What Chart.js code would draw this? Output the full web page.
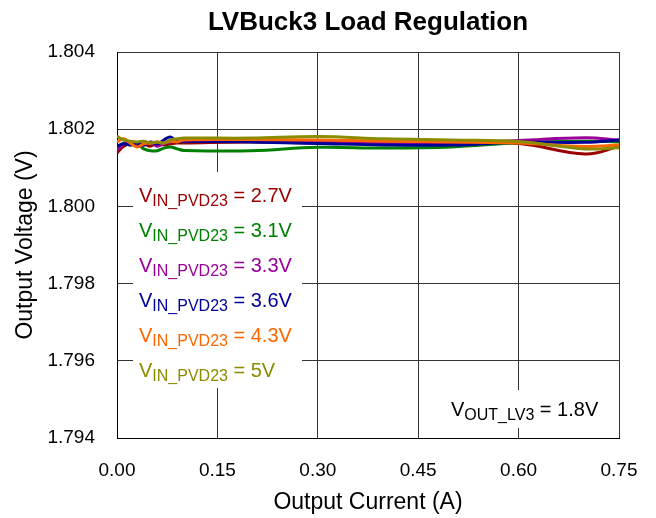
<!DOCTYPE html>
<html>
<head>
<meta charset="utf-8">
<script src="https://cdn.jsdelivr.net/npm/chart.js@4"></script>
<style>
  html, body { margin: 0; padding: 0; background: #fff; }
  #wrap { width: 656px; height: 518px; }
</style>
</head>
<body>
<div id="wrap"><canvas id="chart" width="656" height="518"></canvas></div>
<script>
// Output current (A)
const current = [0, 0.01, 0.02, 0.03, 0.04, 0.05, 0.06, 0.07, 0.08, 0.09, 0.1, 0.2, 0.3, 0.4, 0.5, 0.6, 0.7, 0.75];

// Output voltage (V) per input voltage
const v27 = [1.80138, 1.80156, 1.80162, 1.80159, 1.80162, 1.80156, 1.80164, 1.80159, 1.80162, 1.80164, 1.80164, 1.80167, 1.80164, 1.80163, 1.80162, 1.80163, 1.80136, 1.80155];
const v31 = [1.80151, 1.80164, 1.80159, 1.80162, 1.80149, 1.80144, 1.80144, 1.80151, 1.80154, 1.80149, 1.80145, 1.80144, 1.80153, 1.80151, 1.80154, 1.80165, 1.80169, 1.80167];
const v33 = [1.80146, 1.80162, 1.80164, 1.80156, 1.80159, 1.80164, 1.80156, 1.80162, 1.80167, 1.80169, 1.80169, 1.80168, 1.80166, 1.80164, 1.80164, 1.80171, 1.80178, 1.80172];
const v36 = [1.80156, 1.80162, 1.80159, 1.80164, 1.80159, 1.80167, 1.80162, 1.80172, 1.80180, 1.80167, 1.80169, 1.80167, 1.80163, 1.80159, 1.80159, 1.80166, 1.80166, 1.80172];
const v43 = [1.80167, 1.80175, 1.80164, 1.80154, 1.80162, 1.80164, 1.80167, 1.80164, 1.80169, 1.80167, 1.80172, 1.80173, 1.80172, 1.80169, 1.80167, 1.80164, 1.80155, 1.80159];
const v50 = [1.80182, 1.80172, 1.80169, 1.80167, 1.80169, 1.80164, 1.80167, 1.80164, 1.80172, 1.80175, 1.80177, 1.80177, 1.80181, 1.80175, 1.80172, 1.80168, 1.80149, 1.80152];

const seriesLabels = ['2.7V', '3.1V', '3.3V', '3.6V', '4.3V', '5V'];
const seriesColors = ['#990000', '#008000', '#990099', '#000099', '#ff6600', '#8c8c00'];
const seriesValues = [v27, v31, v33, v36, v43, v50];

const xTicks = [0, 0.15, 0.30, 0.45, 0.60, 0.75];
const yTicks = [1.794, 1.796, 1.798, 1.800, 1.802, 1.804];

const FONT = "'Liberation Sans', Arial, sans-serif";

// draw "V" + subscript + rest as one label
function drawSubLabel(ctx, x, y, main, sub, rest, color) {
    ctx.fillStyle = color;
    ctx.textBaseline = 'alphabetic';
    ctx.textAlign = 'left';
    ctx.font = '20px ' + FONT;
    ctx.fillText(main, x, y);
    x += ctx.measureText(main).width;
    ctx.font = '16px ' + FONT;
    ctx.fillText(sub, x, y + 4);
    x += ctx.measureText(sub).width;
    ctx.font = '20px ' + FONT;
    ctx.fillText(rest, x, y);
}

const annotations = {
    id: 'annotations',
    afterDatasetsDraw(chart) {
        const ctx = chart.ctx;
        const area = chart.chartArea;
        ctx.save();

        // legend block
        ctx.fillStyle = '#fff';
        ctx.fillRect(area.left + 16, area.top + 120, 169, 216);
        seriesLabels.forEach((lab, i) => {
            drawSubLabel(ctx, area.left + 22, area.top + 150 + i * 35, 'V', 'IN_PVD23', ' = ' + lab, seriesColors[i]);
        });

        // output voltage note
        ctx.fillStyle = '#fff';
        ctx.fillRect(area.left + 323, area.top + 338, 170, 38);
        drawSubLabel(ctx, area.left + 334, area.top + 364, 'V', 'OUT_LV3', ' = 1.8V', '#000');

        // title
        ctx.fillStyle = '#000';
        ctx.font = 'bold 26px ' + FONT;
        ctx.textAlign = 'center';
        ctx.textBaseline = 'alphabetic';
        ctx.fillText('LVBuck3 Load Regulation', (area.left + area.right) / 2, 30);
        ctx.restore();
    }
};

new Chart(document.getElementById('chart').getContext('2d'), {
    type: 'line',
    data: {
        labels: current,
        datasets: seriesValues.map((vals, i) => ({
            label: 'VIN_PVD23 = ' + seriesLabels[i],
            data: vals.map((v, j) => ({ x: current[j], y: v })),
            borderColor: seriesColors[i],
            backgroundColor: seriesColors[i],
            borderWidth: 3,
            pointRadius: 0,
            tension: 0.4,
            order: seriesValues.length - i
        }))
    },
    options: {
        responsive: false,
        animation: false,
        layout: { padding: { top: 52, right: 37, left: 0, bottom: 0 } },
        plugins: {
            legend: { display: false },
            tooltip: { enabled: false },
            title: { display: false }
        },
        scales: {
            x: {
                type: 'linear',
                min: 0,
                max: 0.75,
                afterFit: (scale) => {
                    scale.height = 80;
                    scale.paddingLeft = 0;
                    scale.paddingRight = 0;
                },
                afterBuildTicks: (scale) => { scale.ticks = xTicks.map(v => ({ value: v })); },
                ticks: {
                    color: '#000',
                    font: { family: FONT, size: 19 },
                    padding: 21,
                    maxRotation: 0,
                    callback: (v) => Number(v).toFixed(2)
                },
                grid: { color: '#333', lineWidth: 1, drawTicks: false },
                border: { color: '#000', width: 1 },
                title: {
                    display: true,
                    text: 'Output Current (A)',
                    color: '#000',
                    font: { family: FONT, size: 23 },
                    padding: { top: 0, bottom: 2 }
                }
            },
            y: {
                min: 1.794,
                max: 1.804,
                afterFit: (scale) => {
                    scale.width = 117;
                    scale.paddingTop = 0;
                    scale.paddingBottom = 0;
                },
                afterBuildTicks: (scale) => { scale.ticks = yTicks.map(v => ({ value: v })); },
                ticks: {
                    color: '#000',
                    font: { family: FONT, size: 19 },
                    padding: 22,
                    callback: (v) => Number(v).toFixed(3)
                },
                grid: { color: '#333', lineWidth: 1, drawTicks: false },
                border: { color: '#000', width: 1 },
                title: {
                    display: true,
                    text: 'Output Voltage (V)',
                    color: '#000',
                    font: { family: FONT, size: 23 },
                    padding: { top: 12, bottom: 0 }
                }
            }
        }
    },
    plugins: [annotations]
});
</script>
</body>
</html>
